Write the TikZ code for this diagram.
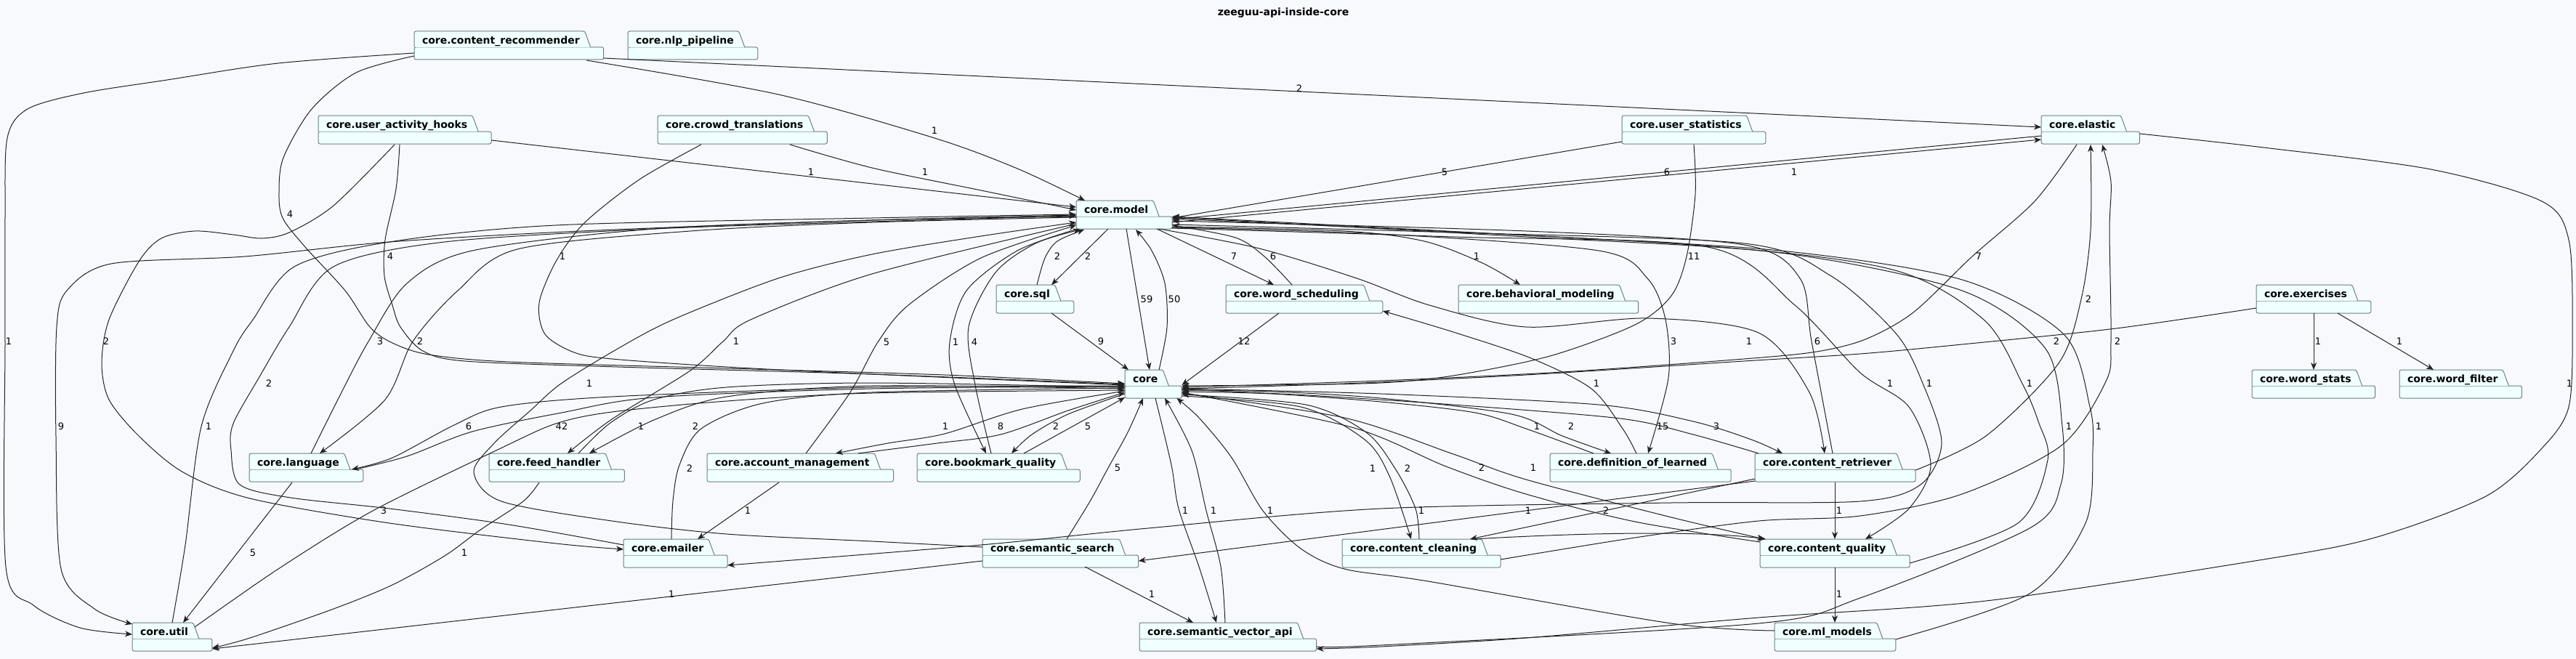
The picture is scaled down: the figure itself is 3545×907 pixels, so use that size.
\documentclass[tikz,border=0pt]{standalone}
\usepackage{fontspec}
\setmainfont{DejaVu Sans}
\usetikzlibrary{arrows.meta,calc,fit}
\definecolor{bgc}{RGB}{248,249,253}
\definecolor{pkgfill}{RGB}{240,255,255}
\definecolor{pkgline}{RGB}{110,128,128}
\definecolor{edgec}{RGB}{34,34,34}
\tikzset{
  pkgtext/.style={font=\bfseries\fontsize{14}{16}\selectfont, inner sep=0pt, outer sep=0pt, text=black},
  pkgshape/.style={draw=pkgline, fill=pkgfill, line width=1pt, rounded corners=2.5pt},
  pkgarea/.style={inner sep=0pt, outer sep=0pt},
  dep/.style={draw=edgec, line width=1pt, -{Stealth[length=10pt,width=8pt,inset=3pt]}},
  lbl/.style={font=\fontsize{13}{15}\selectfont, inner sep=0pt, text=black},
  sh/.style 2 args={xshift=#1pt, yshift=-#2pt}
}
\newcommand\pkg[4]{%
  \node[pkgtext, anchor=base west] (#1-m) at (#2+11,#3+17) {#4};
  \coordinate (#1-tl) at (#2,#3);
  \coordinate (#1-br) at ($(#1-m.east |- 0,#3+39)+(33,0)$);
  \path[pkgshape] (#2,#3+22) -- (#2,#3+39) -- (#1-br) -- (#1-br |- 0,#3+22) -- cycle;
  \path[pkgshape] (#2,#3+22) -- (#2,#3) -- ($(#1-m.east |- 0,#3)+(7,0)$) -- ($(#1-m.east |- 0,#3+22)+(15,0)$);
  \node[pkgtext, anchor=base west] (#1-n) at (#1-m.base west) {#4};
  \node[pkgarea, fit=(#1-tl)(#1-br)] (#1) {};
}
\begin{document}
\begin{tikzpicture}[x=1pt,y=-1pt]
\useasboundingbox (0,0) rectangle (3545,907);
\fill[bgc] (0,0) rectangle (3545,907);
\node[font=\bfseries\fontsize{14}{16}\selectfont] (title) at (1766,18) {zeeguu-api-inside-core};

\pkg{cr}{570}{43}{core.content\_recommender}
\pkg{nlp}{864}{43}{core.nlp\_pipeline}
\pkg{uah}{438}{159}{core.user\_activity\_hooks}
\pkg{ct}{905}{159}{core.crowd\_translations}
\pkg{us}{2232}{159}{core.user\_statistics}
\pkg{el}{2809}{159}{core.elastic}
\pkg{model}{1481}{276}{core.model}
\pkg{sql}{1371}{392}{core.sql}
\pkg{ws}{1687}{392}{core.word\_scheduling}
\pkg{bm}{2007}{392}{core.behavioral\_modeling}
\pkg{ex}{3105}{392}{core.exercises}
\pkg{core}{1548}{509}{core}
\pkg{wst}{3099}{509}{core.word\_stats}
\pkg{wf}{3302}{509}{core.word\_filter}
\pkg{lang}{343}{624}{core.language}
\pkg{fh}{673}{624}{core.feed\_handler}
\pkg{am}{973}{624}{core.account\_management}
\pkg{bq}{1262}{624}{core.bookmark\_quality}
\pkg{dol}{2133}{624}{core.definition\_of\_learned}
\pkg{crt}{2415}{624}{core.content\_retriever}
\pkg{em}{858}{742}{core.emailer}
\pkg{ss}{1352}{742}{core.semantic\_search}
\pkg{cc}{1847}{742}{core.content\_cleaning}
\pkg{cq}{2422}{742}{core.content\_quality}
\pkg{util}{182}{857}{core.util}
\pkg{sva}{1568}{857}{core.semantic\_vector\_api}
\pkg{ml}{2442}{857}{core.ml\_models}

% ---- edges from the top row
\draw[dep] plot[smooth,tension=.5] coordinates {([sh={0}{30}]cr.north west) (383,87) (230,110) (115,128) (38,150) (10,190) (7,300) (7,470) (8,780) (46,833) (110,864) ([sh={0}{16}]util.north west)};
\node[lbl] (l1) at (12,470) {1};
\draw[dep] plot[smooth,tension=.5] coordinates {([sh={0}{34}]cr.north west) (490,100) (429,150) (390,217) (384,265) (389,300) (420,340) (475,400) (509,450) (540,472) (590,488) (700,498) (1000,507) (1300,516) ([sh={0}{19}]core.north west)};
\node[lbl] (l2) at (399,295) {4};
\draw[dep] plot[smooth,tension=.5] coordinates {([sh={237}{40}]cr.north west) (1071,130) (1286,190) (1400,232) ([sh={12}{0}]model.north west)};
\node[lbl] (l3) at (1286,180) {1};
\draw[dep] ([sh={0}{37}]cr.north east) -- ([sh={0}{16}]el.north west);
\node[lbl] (l4) at (1788,122) {2};
\draw[dep] ([sh={0}{34}]uah.north east) -- ([sh={0}{9}]model.north west);
\node[lbl] (l5) at (1116,237) {1};
\draw[dep] plot[smooth,tension=.5] coordinates {([sh={105}{40}]uah.north west) (459,283) (398,320) (360,328) (321,323) (268,318) (222,328) (191,360) (150,440) (140,500) (150,550) (191,600) (252,650) (344,686) (536,720) (765,748) ([sh={0}{14}]em.north west)};
\node[lbl] (l6) at (146,470) {2};
\draw[dep] plot[smooth,tension=.5] coordinates {([sh={112}{40}]uah.north west) (545,260) (530,330) (529,380) (540,420) (551,450) (582,483) (640,497) (850,505) (1200,515) ([sh={0}{20}]core.north west)};
\node[lbl] (l7) at (537,353) {4};
\draw[dep] plot[smooth,tension=.5] coordinates {([sh={182}{40}]ct.north west) (1200,231) (1350,262) ([sh={0}{13}]model.north west)};
\node[lbl] (l8) at (1273,237) {1};
\draw[dep] plot[smooth,tension=.5] coordinates {([sh={60}{40}]ct.north west) (880,247) (804,307) (765,360) (742,417) (750,460) (790,485) (842,494) (1000,505) (1200,515) ([sh={0}{21}]core.north west)};
\node[lbl] (l9) at (774,353) {1};
\draw[dep] ([sh={0}{36}]us.north west) -- ([sh={0}{24}]model.north east);
\node[lbl] (l10) at (1988,237) {5};
\draw[dep] plot[smooth,tension=.5] coordinates {([sh={99}{40}]us.north west) (2333,267) (2321,353) (2300,407) (2250,447) (2133,490) (2000,517) (1900,527) (1750,530) ([sh={0}{22}]core.north east)};
\node[lbl] (l11) at (2331,353) {11};
\draw[dep] ([sh={0}{28}]el.north west) -- ([sh={0}{26}]model.north east);
\node[lbl] (l12) at (2294,237) {6};
\draw[dep] ([sh={0}{30}]model.north east) -- ([sh={0}{33}]el.north west);
\node[lbl] (l13) at (2469,237) {1};
\draw[dep] plot[smooth,tension=.5] coordinates {([sh={49}{40}]el.north west) (2800,277) (2714,353) (2633,430) (2567,467) (2500,484) (2400,494) (2150,512) (1900,524) ([sh={0}{24}]core.north east)};
\node[lbl] (l14) at (2723,353) {7};
\draw[dep] plot[smooth,tension=.5] coordinates {([sh={0}{25}]el.north east) (3115,203) (3345,233) (3498,277) (3535,330) (3540,450) (3535,560) (3498,617) (3421,683) (3268,740) (3115,770) (2733,827) (2420,850) (2100,878) (1900,890) ([sh={0}{36}]sva.north east)};
\node[lbl] (l15) at (3536,528) {1};
\draw[dep] plot[smooth,tension=.5] coordinates {([sh={0}{23}]crt.north east) (2733,600) (2833,500) (2864,412) (2877,317) ([sh={68}{40}]el.north west)};
\node[lbl] (l16) at (2874,412) {2};
\draw[dep] plot[smooth,tension=.5] coordinates {([sh={0}{28}]cc.north east) (2250,740) (2420,717) (2560,710) (2700,680) (2837,613) (2898,525) (2905,470) (2903,317) (2905,250) ([sh={84}{40}]el.north west)};
\node[lbl] (l17) at (2914,470) {2};
\draw[dep] plot[smooth,tension=.5] coordinates {([sh={0}{32}]ex.north west) (2912,452) (2700,474) (2560,487) (2400,497) (2100,516) (1850,528) ([sh={0}{26}]core.north east)};
\node[lbl] (l18) at (2830,470) {2};
\draw[dep] ([sh={79}{39}]ex.north west) -- ([sh={85}{0}]wst.north west);
\node[lbl] (l19) at (3190,470) {1};
\draw[dep] ([sh={112}{39}]ex.north west) -- ([sh={47}{0}]wf.north west);
\node[lbl] (l20) at (3302,470) {1};

% ---- model / core neighbourhood
\draw[dep] ([sh={44}{39}]model.north west) -- ([sh={76}{0}]sql.north west);
\node[lbl] (l21) at (1497,353) {2};
\draw[dep] plot[smooth,tension=.5] coordinates {([sh={56}{0}]sql.north west) (1438,355) (1455,332) ([sh={11}{40}]model.north west)};
\node[lbl] (l22) at (1455,353) {2};
\draw[dep] ([sh={69}{39}]model.north west) -- ([sh={34}{0}]core.north west);
\node[lbl] (l23) at (1578,412) {59};
\draw[dep] plot[smooth,tension=.5] coordinates {([sh={47}{0}]core.north west) (1606,450) (1603,390) (1585,345) ([sh={82}{40}]model.north west)};
\node[lbl] (l24) at (1616,412) {50};
\draw[dep] ([sh={111}{39}]model.north west) -- ([sh={66}{0}]ws.north west);
\node[lbl] (l25) at (1698,353) {7};
\draw[dep] plot[smooth,tension=.5] coordinates {([sh={91}{0}]ws.north west) (1740,353) (1700,327) ([sh={0}{34}]model.north east)};
\node[lbl] (l26) at (1752,353) {6};
\draw[dep] ([sh={76}{39}]sql.north west) -- ([sh={5}{0}]core.north west);
\node[lbl] (l27) at (1515,470) {9};
\draw[dep] ([sh={73}{39}]ws.north west) -- ([sh={0}{21}]core.north east);
\node[lbl] (l28) at (1712,470) {12};
\draw[dep] plot[smooth,tension=.5] coordinates {([sh={0}{36}]model.north east) (1850,318) (1960,332) (2040,362) ([sh={85}{0}]bm.north west)};
\node[lbl] (l29) at (2032,353) {1};
\draw[dep] plot[smooth,tension=.5] coordinates {([sh={119}{0}]dol.north west) (2233,590) (2190,535) (2107,493) (2000,457) ([sh={0}{36}]ws.north east)};
\node[lbl] (l30) at (2197,528) {1};
\draw[dep] plot[smooth,tension=.5] coordinates {([sh={0}{37}]model.north east) (1900,322) (2200,345) (2267,383) (2292,440) (2296,520) ([sh={135}{0}]dol.north west)};
\node[lbl] (l31) at (2303,470) {3};
\draw[dep] plot[smooth,tension=.5] coordinates {([sh={60}{0}]dol.north west) (2100,590) (2030,568) (1900,553) (1750,542) ([sh={0}{30}]core.north east)};
\node[lbl] (l32) at (2115,587) {1};
\draw[dep] plot[smooth,tension=.5] coordinates {([sh={0}{28}]core.north east) (1750,539) (1900,548) (2080,570) (2150,600) ([sh={84}{0}]dol.north west)};
\node[lbl] (l33) at (2162,587) {2};
\draw[dep] plot[smooth,tension=.5] coordinates {([sh={5}{0}]crt.north west) (2330,598) (2230,576) (2000,557) (1800,544) ([sh={0}{27}]core.north east)};
\node[lbl] (l34) at (2288,587) {15};
\draw[dep] plot[smooth,tension=.5] coordinates {([sh={0}{26}]core.north east) (1900,542) (2200,557) (2330,580) (2410,605) ([sh={38}{0}]crt.north west)};
\node[lbl] (l35) at (2362,587) {3};
\draw[dep] plot[smooth,tension=.5] coordinates {([sh={114}{39}]model.north west) (1733,342) (1867,383) (1967,420) (2100,450) (2267,438) (2420,458) (2490,540) ([sh={96}{0}]crt.north west)};
\node[lbl] (l36) at (2407,470) {1};
\draw[dep] plot[smooth,tension=.5] coordinates {([sh={107}{0}]crt.north west) (2493,470) (2477,383) (2400,337) (2100,318) ([sh={0}{28}]model.north east)};
\node[lbl] (l37) at (2501,470) {6};
\draw[dep] plot[smooth,tension=.5] coordinates {([sh={0}{38}]model.north east) (2000,326) (2350,340) (2470,420) (2560,513) (2627,560) (2657,640) (2627,700) ([sh={145}{0}]cq.north west)};
\node[lbl] (l38) at (2601,528) {1};
\draw[dep] plot[smooth,tension=.5] coordinates {([sh={0}{33}]model.north east) (2000,320) (2400,335) (2520,380) (2610,460) (2647,530) (2672,610) (2643,667) (2560,690) (2300,692) (1900,700) (1580,727) (1350,750) ([sh={0}{36}]em.north east)};
\node[lbl] (l39) at (2655,528) {1};
\draw[dep] plot[smooth,tension=.5] coordinates {([sh={0}{33}]cq.north east) (2777,720) (2818,633) (2805,580) (2783,528) (2730,440) (2600,370) (2300,335) ([sh={0}{25}]model.north east)};
\node[lbl] (l40) at (2793,528) {1};
\draw[dep] plot[smooth,tension=.5] coordinates {([sh={0}{33}]sva.north east) (1900,888) (2420,858) (2560,823) (2793,727) (2836,667) (2838,587) (2815,480) (2700,400) (2450,348) (2100,326) ([sh={0}{23}]model.north east)};
\node[lbl] (l41) at (2847,587) {1};
\draw[dep] plot[smooth,tension=.5] coordinates {([sh={0}{23}]ml.north east) (2793,817) (2870,720) (2880,620) (2876,560) (2840,460) (2700,385) (2450,345) (2100,324) ([sh={0}{22}]model.north east)};
\node[lbl] (l42) at (2888,587) {1};
\draw[dep] plot[smooth,tension=.5] coordinates {([sh={0}{11}]ml.north west) (2300,858) (1965,800) (1850,783) (1790,755) (1738,703) (1695,630) (1650,575) ([sh={-7}{0}]core.south east)};
\node[lbl] (l43) at (1748,703) {1};
\draw[dep] plot[smooth,tension=.5] coordinates {([sh={42}{39}]core.north west) (1612,640) (1622,700) (1650,780) ([sh={106}{0}]sva.north west)};
\node[lbl] (l44) at (1631,703) {1};
\draw[dep] plot[smooth,tension=.5] coordinates {([sh={118}{0}]sva.north west) (1680,780) (1660,703) (1640,620) ([sh={55}{39}]core.north west)};
\node[lbl] (l45) at (1670,703) {1};
\draw[dep] ([sh={141}{38}]ss.north west) -- ([sh={74}{0}]sva.north west);
\node[lbl] (l46) at (1585,818) {1};
\draw[dep] plot[smooth,tension=.5] coordinates {([sh={116}{0}]ss.north west) (1500,690) (1525,644) (1552,595) ([sh={25}{39}]core.north west)};
\node[lbl] (l47) at (1538,644) {5};
\draw[dep] ([sh={0}{30}]ss.north west) -- ([sh={0}{36}]util.north east);
\node[lbl] (l48) at (924,818) {1};
\draw[dep] plot[smooth,tension=.5] coordinates {([sh={0}{11}]ss.north west) (1200,745) (1000,735) (842,717) (690,690) (652,650) (680,610) (730,565) (772,528) (850,480) (926,440) (1071,383) (1200,350) (1350,325) ([sh={0}{30}]model.north west)};
\node[lbl] (l49) at (811,528) {1};

% ---- left side
\draw[dep] plot[smooth,tension=.5] coordinates {([sh={0}{32}]model.north west) (1200,377) (1033,440) (995,470) (950,510) (842,577) ([sh={108}{0}]fh.north west)};
\node[lbl] (l50) at (1013,470) {1};
\draw[dep] plot[smooth,tension=.5] coordinates {([sh={123}{0}]fh.north west) (840,582) (900,550) (1000,533) (1200,527) ([sh={0}{24}]core.north west)};
\node[lbl] (l51) at (882,587) {1};
\draw[dep] plot[smooth,tension=.5] coordinates {([sh={0}{26}]core.north west) (1200,531) (1000,546) (900,578) ([sh={138}{0}]fh.north west)};
\node[lbl] (l52) at (957,587) {2};
\draw[dep] plot[smooth,tension=.5] coordinates {([sh={69}{40}]fh.north west) (720,690) (660,730) (612,765) (540,805) (459,838) (344,878) ([sh={0}{35}]util.north east)};
\node[lbl] (l53) at (639,761) {1};
\draw[dep] ([sh={59}{40}]lang.north west) -- ([sh={70}{0}]util.north west);
\node[lbl] (l54) at (348,761) {5};
\draw[dep] plot[smooth,tension=.5] coordinates {([sh={86}{6}]util.north west) (383,783) (513,703) (689,617) (765,583) (842,567) (1000,552) (1200,541) ([sh={0}{28}]core.north west)};
\node[lbl] (l55) at (528,703) {3};
\draw[dep] plot[smooth,tension=.5] coordinates {([sh={55}{0}]util.north west) (255,750) (277,587) (321,483) (348,440) (405,367) (536,333) (765,310) (1200,300) ([sh={0}{19}]model.north west)};
\node[lbl] (l56) at (287,587) {1};
\draw[dep] plot[smooth,tension=.5] coordinates {([sh={0}{22}]model.north west) (1200,303) (800,318) (536,333) (337,353) (153,363) (92,400) (78,450) (77,600) (84,783) (130,838) ([sh={0}{2}]util.north west)};
\node[lbl] (l57) at (84,587) {9};
\draw[dep] plot[smooth,tension=.5] coordinates {([sh={85}{0}]lang.north west) (470,540) (507,470) (560,390) (650,345) (900,315) (1200,303) ([sh={0}{20}]model.north west)};
\node[lbl] (l58) at (523,470) {3};
\draw[dep] plot[smooth,tension=.5] coordinates {([sh={0}{23}]model.north west) (1200,306) (950,318) (712,343) (630,400) (568,470) (530,550) ([sh={97}{0}]lang.north west)};
\node[lbl] (l59) at (578,470) {2};
\draw[dep] plot[smooth,tension=.5] coordinates {([sh={0}{22}]core.north west) (1200,533) (842,546) (690,560) (625,585) (540,630) ([sh={141}{22}]lang.north west)};
\node[lbl] (l60) at (645,587) {6};
\draw[dep] plot[smooth,tension=.5] coordinates {([sh={146}{22}]lang.north west) (560,628) (650,594) (773,568) (900,547) (1200,535) ([sh={0}{23}]core.north west)};
\node[lbl] (l61) at (773,587) {42};
\draw[dep] plot[smooth,tension=.5] coordinates {([sh={0}{8}]em.north west) (700,722) (536,700) (400,685) (330,667) (318,620) (321,583) (358,517) (398,450) (459,367) (612,333) (900,315) (1200,305) ([sh={0}{21}]model.north west)};
\node[lbl] (l62) at (370,528) {2};
\draw[dep] plot[smooth,tension=.5] coordinates {([sh={66}{0}]em.north west) (926,690) (935,640) (965,590) (1050,555) (1200,540) ([sh={0}{25}]core.north west)};
\node[lbl] (l63) at (949,645) {2};
\draw[dep] plot[smooth,tension=.5] coordinates {([sh={136}{0}]am.north west) (1170,540) (1208,471) (1250,420) (1350,355) ([sh={0}{34}]model.north west)};
\node[lbl] (l64) at (1220,471) {5};
\draw[dep] plot[smooth,tension=.5] coordinates {([sh={0}{29}]core.north west) (1407,563) (1300,597) (1222,610) ([sh={177}{0}]am.north west)};
\node[lbl] (l65) at (1301,587) {1};
\draw[dep] plot[smooth,tension=.5] coordinates {([sh={208}{0}]am.north west) (1290,610) (1377,598) (1470,565) ([sh={0}{31}]core.north west)};
\node[lbl] (l66) at (1377,587) {8};
\draw[dep] ([sh={99}{40}]am.north west) -- ([sh={102}{0}]em.north west);
\node[lbl] (l67) at (1029,703) {1};
\draw[dep] plot[smooth,tension=.5] coordinates {([sh={2}{39}]model.north west) (1400,345) (1330,400) (1307,471) (1314,530) ([sh={95}{0}]bq.north west)};
\node[lbl] (l68) at (1315,471) {1};
\draw[dep] plot[smooth,tension=.5] coordinates {([sh={102}{0}]bq.north west) (1342,530) (1333,450) (1370,375) (1425,335) ([sh={6}{40}]model.north west)};
\node[lbl] (l69) at (1341,471) {4};
\draw[dep] plot[smooth,tension=.5] coordinates {([sh={0}{33}]core.north west) (1470,570) (1420,598) ([sh={130}{0}]bq.north west)};
\node[lbl] (l70) at (1453,587) {2};
\draw[dep] ([sh={147}{0}]bq.north west) -- ([sh={0}{38}]core.north west);
\node[lbl] (l71) at (1497,587) {5};

% ---- right-lower part
\draw[dep] ([sh={0}{38}]crt.north west) -- ([sh={0}{30}]ss.north east);
\node[lbl] (l72) at (2103,703) {1};
\draw[dep] ([sh={0}{35}]crt.north west) -- ([sh={176}{0}]cc.north west);
\node[lbl] (l73) at (2210,703) {2};
\draw[dep] ([sh={180}{0}]cc.north west) .. controls (2200,732) and (2350,731) .. ([sh={8}{0}]cq.north west);
\node[lbl] (l74) at (1956,703) {1};
\draw[dep] ([sh={110}{40}]crt.north west) -- ([sh={103}{0}]cq.north west);
\node[lbl] (l75) at (2531,703) {1};
\draw[dep] ([sh={103}{39}]cq.north west) -- ([sh={83}{0}]ml.north west);
\node[lbl] (l76) at (2531,818) {1};
\draw[dep] plot[smooth,tension=.5] coordinates {([sh={0}{36}]core.north east) (1790,560) (1878,605) (1912,655) ([sh={95}{0}]cc.north west)};
\node[lbl] (l77) at (1889,645) {1};
\draw[dep] plot[smooth,tension=.5] coordinates {([sh={106}{0}]cc.north west) (1948,700) (1920,645) (1880,595) (1797,557) ([sh={0}{34}]core.north east)};
\node[lbl] (l78) at (1937,645) {2};
\draw[dep] plot[smooth,tension=.5] coordinates {([sh={0}{32}]core.north east) (1850,575) (2000,625) (2100,660) (2300,712) ([sh={6}{0}]cq.north west)};
\node[lbl] (l79) at (2110,644) {1};
\draw[dep] plot[smooth,tension=.5] coordinates {([sh={0}{4}]cq.north west) (2250,718) (2100,680) (1990,642) (1860,588) ([sh={0}{31}]core.north east)};
\node[lbl] (l80) at (2039,644) {2};
\end{tikzpicture}
\end{document}
